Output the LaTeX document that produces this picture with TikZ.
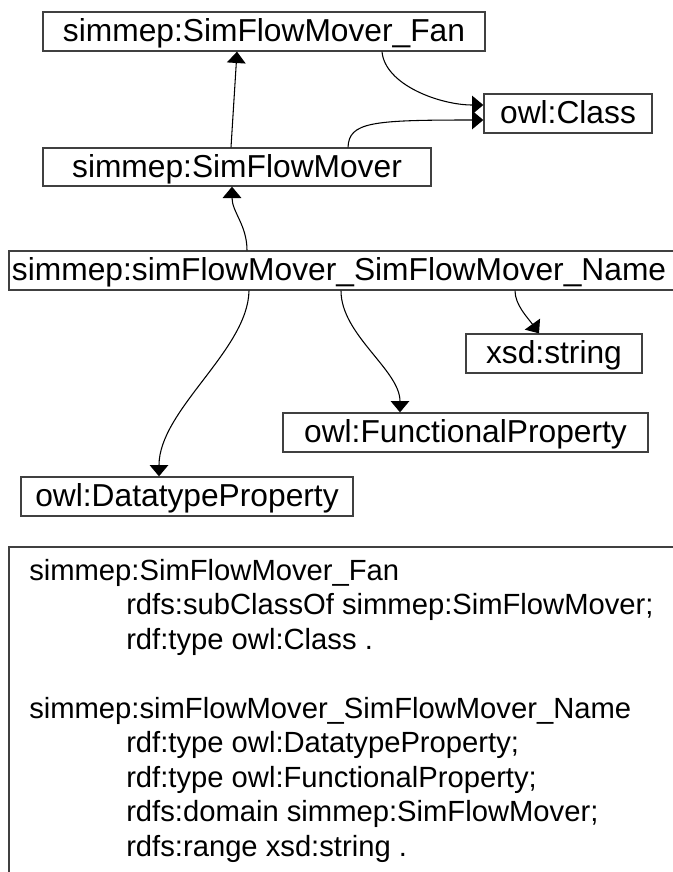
\documentclass[tikz,border=0pt]{standalone}
\usepackage{fontspec}
\setmainfont{Liberation Sans}
\usetikzlibrary{calc,arrows.meta}
\begin{document}
\begin{tikzpicture}[x=0.75pt,y=-0.75pt,
  box/.style={draw=black!75,line width=1pt,inner sep=0pt,font=\fontsize{23.8pt}{26pt}\selectfont,
    text height=17.1pt,text depth=2pt},
  conn/.style={draw=black,line width=0.8pt,-{Triangle[length=8.5pt,width=14pt]}},
  txt/.style={inner sep=0pt,anchor=base west,font=\fontsize{21.9pt}{26pt}\selectfont}]
\useasboundingbox (0,0) rectangle (673,872);
\node[box,minimum width=442*0.75pt,minimum height=39*0.75pt] (fan) at (264,31.5) {simmep:SimFlowMover\_Fan};
\node[box,minimum width=168*0.75pt,minimum height=39*0.75pt] (cls) at (568,113.5) {owl:Class};
\node[box,minimum width=388*0.75pt,minimum height=38*0.75pt] (sfm) at (237,167) {simmep:SimFlowMover};
\node[box,text width=663*0.75pt,inner xsep=3*0.75pt,align=left,minimum height=39*0.75pt] (name) at (343.5,270.5) {simmep:simFlowMover\_SimFlowMover\_Name};
\node[box,minimum width=176*0.75pt,minimum height=39*0.75pt] (xsd) at (554,353.5) {xsd:string};
\node[box,minimum width=365*0.75pt,minimum height=39*0.75pt] (fp) at (465.5,432.5) {owl:FunctionalProperty};
\node[box,minimum width=332*0.75pt,minimum height=39*0.75pt] (dp) at (187,496.5) {owl:DatatypeProperty};
% connectors
\draw[conn] ($(sfm.north)+(-6,0)$) -- ($(fan.south)+(-27,0)$);
\draw[conn] ($(fan.south)+(118,0)$) .. controls (385,85) and (440,105) .. ($(cls.west)+(0,-8.5)$);
\draw[conn] ($(sfm.north)+(111,0)$) .. controls (349,122) and (372,120) .. ($(cls.west)+(0,6.5)$);
\draw[conn] ($(name.north)+(-96.5,0)$) .. controls (247,225) and (232,212) .. ($(sfm.south)+(-5,0)$);
\draw[conn] ($(name.south)+(-94.5,0)$) .. controls (248,350) and (159,410) .. ($(dp.north)+(-28,0)$);
\draw[conn] ($(name.south)+(-2.5,0)$) .. controls (341,335) and (400,370) .. ($(fp.north)+(-65.5,0)$);
\draw[conn] ($(name.south)+(171.5,0)$) .. controls (515,305) and (528,318) .. ($(xsd.north)+(-15,0)$);
% Turtle listing
\draw[draw=black!75,line width=1pt] (9,890) -- (9,547) -- (690,547);
\node[txt] (t1) at (29,580) {simmep:SimFlowMover\_Fan};
\node[txt] (t2) at (126,614.5) {rdfs:subClassOf simmep:SimFlowMover;};
\node[txt] (t3) at (126,649) {rdf:type owl:Class .};
\node[txt] (t4) at (29,718) {simmep:simFlowMover\_SimFlowMover\_Name};
\node[txt] (t5) at (126,752.5) {rdf:type owl:DatatypeProperty;};
\node[txt] (t6) at (126,787) {rdf:type owl:FunctionalProperty;};
\node[txt] (t7) at (126,821.5) {rdfs:domain simmep:SimFlowMover;};
\node[txt] (t8) at (126,856) {rdfs:range xsd:string .};
\end{tikzpicture}
\end{document}
